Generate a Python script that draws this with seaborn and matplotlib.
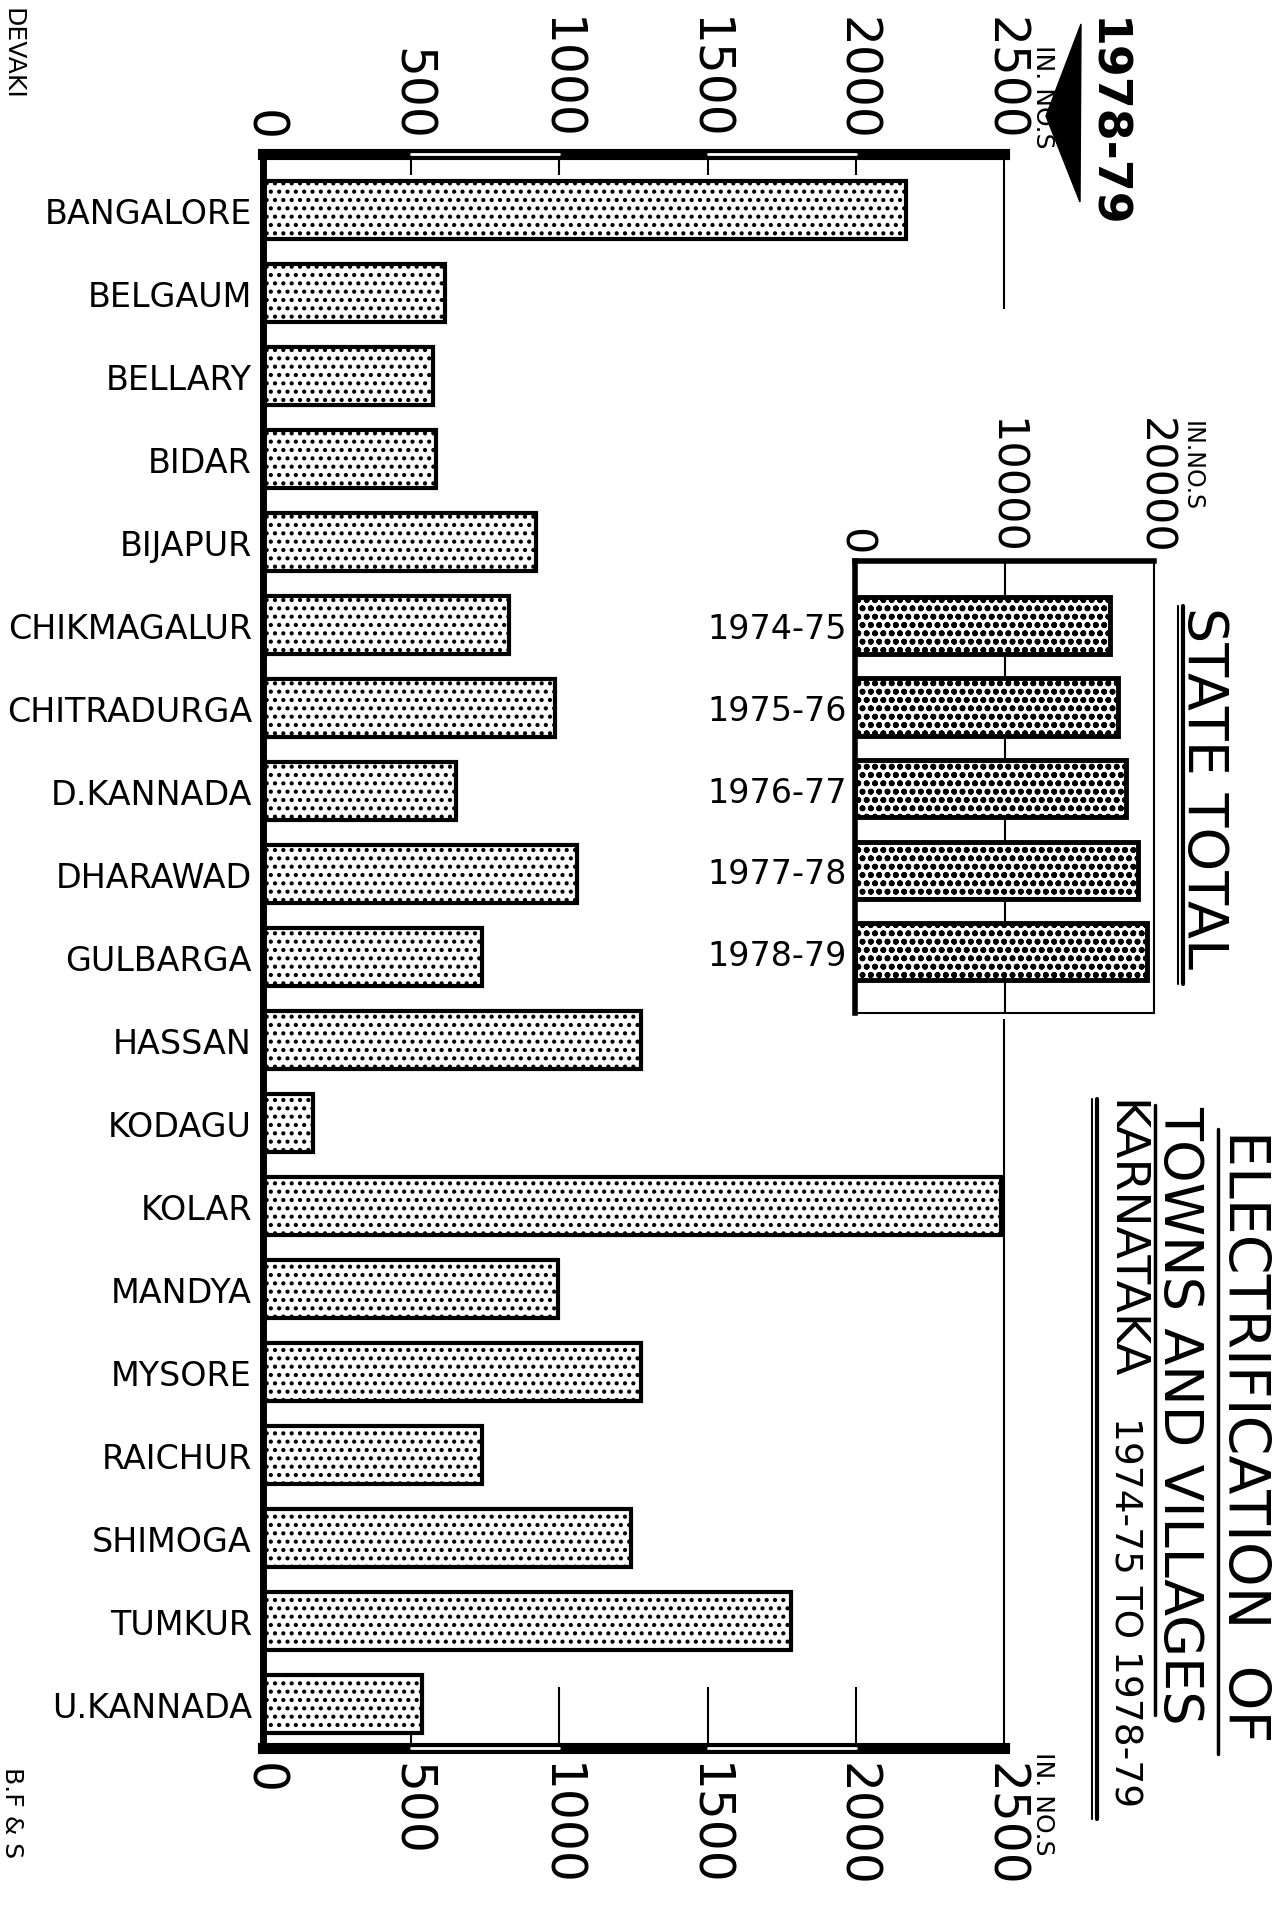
import matplotlib
matplotlib.use('Agg')
import matplotlib.pyplot as plt
from matplotlib.lines import Line2D
from matplotlib.patches import Polygon
import pandas as pd
import seaborn as sns

# District-wise electrified towns and villages, 1978-79
districts = ['BANGALORE', 'BELGAUM', 'BELLARY', 'BIDAR', 'BIJAPUR', 'CHIKMAGALUR',
             'CHITRADURGA', 'D.KANNADA', 'DHARAWAD', 'GULBARGA', 'HASSAN', 'KODAGU',
             'KOLAR', 'MANDYA', 'MYSORE', 'RAICHUR', 'SHIMOGA', 'TUMKUR', 'U.KANNADA']
villages_1978_79 = [2170, 615, 575, 585, 920, 830, 985, 650, 1060, 740,
                    1275, 170, 2490, 995, 1275, 740, 1240, 1780, 535]
district_ticks = [0, 500, 1000, 1500, 2000, 2500]

# State totals
years = ['1974-75', '1975-76', '1976-77', '1977-78', '1978-79']
state_total = [17050, 17600, 18130, 18900, 19500]
total_ticks = [0, 10000, 20000]

sns.set_style('white')
plt.rcParams['font.family'] = ['DejaVu Sans']
plt.rcParams['hatch.linewidth'] = 1.8
for key in ['text.color', 'xtick.color', 'ytick.color', 'axes.labelcolor']:
    plt.rcParams[key] = 'black'

W, H = 1284, 1915
fig = plt.figure(figsize=(W / 100, H / 100), dpi=100)


def fx(px):
    return px / W


def fy(py):
    return 1 - py / H


# Main district chart
ax = fig.add_axes([fx(263), fy(1749), fx(1004) - fx(263), fy(155) - fy(1749)])
df = pd.DataFrame({'district': districts, 'count': villages_1978_79})
sns.barplot(data=df, x='count', y='district', orient='h', color='white',
            edgecolor='black', linewidth=3, width=0.7, ax=ax, zorder=2)
for p in ax.patches:
    p.set_hatch('..')

ax.set_xlim(0, 2500)
ax.set_ylim(18.53, -0.67)
ax.set_xticks(district_ticks)
ax.set_xticklabels([str(t) for t in district_ticks])
ax.tick_params(axis='x', top=True, labeltop=True, bottom=True, labelbottom=True,
               length=0, labelsize=35, labelrotation=-90, pad=10)
ax.tick_params(axis='y', length=0, labelsize=24, pad=8)
ax.set_xlabel('')
ax.set_ylabel('')
ax.spines['left'].set_linewidth(5)
ax.spines['top'].set_linewidth(8)
ax.spines['bottom'].set_linewidth(8)
ax.spines['right'].set_visible(False)
for s in ['left', 'top', 'bottom']:
    ax.spines[s].set_color('black')

# scale-bar look of the top and bottom frame
for yv in [1, 0]:
    for seg in [(500, 1000), (1500, 2000)]:
        ax.plot(seg, [yv, yv], transform=ax.get_xaxis_transform(), color='white',
                lw=2, clip_on=False, zorder=5)
ax.vlines([500, 1000, 1500, 2000], -0.67, -0.42, color='black', lw=1.5, zorder=1)
ax.vlines([500, 1000, 1500, 2000], 17.8, 18.53, color='black', lw=1.5, zorder=1)
ax.vlines(2500, -0.67, 1.2, color='black', lw=1.5, clip_on=False)
ax.vlines(2500, 9.75, 18.53, color='black', lw=1.5, clip_on=False)

# State total inset
ax2 = fig.add_axes([fx(855), fy(1014), fx(1154) - fx(855), fy(562) - fy(1014)])
df2 = pd.DataFrame({'year': years, 'total': state_total})
sns.barplot(data=df2, x='total', y='year', orient='h', color='white',
            edgecolor='black', linewidth=3.5, width=0.7, ax=ax2, zorder=2)
for p in ax2.patches:
    p.set_hatch('oo')
ax2.set_xlim(0, 20000)
ax2.set_ylim(4.75, -0.79)
ax2.axvline(10000, color='black', lw=1.5, zorder=0)
ax2.set_xticks(total_ticks)
ax2.set_xticklabels([str(t) for t in total_ticks])
ax2.tick_params(axis='x', top=True, labeltop=True, bottom=False, labelbottom=False,
                length=0, labelsize=31, labelrotation=-90, pad=5)
ax2.tick_params(axis='y', length=0, labelsize=24, pad=6)
ax2.set_xlabel('')
ax2.set_ylabel('')
ax2.spines['left'].set_linewidth(4)
ax2.spines['top'].set_linewidth(4)
ax2.spines['right'].set_linewidth(1.5)
ax2.spines['bottom'].set_linewidth(1.5)
for s in ax2.spines.values():
    s.set_color('black')

# Texts (the sheet is printed sideways)
txt = dict(rotation=270, va='top', ha='center', color='black')
fig.text(fx(1105), fy(18), '1978-79', fontsize=33, fontweight='bold', **txt)
fig.add_artist(Polygon([[fx(1081), fy(25)], [fx(1046), fy(117)], [fx(1080), fy(203)]],
                       closed=True, color='black', transform=fig.transFigure))
fig.text(fx(1043), fy(45), 'IN. NO.S', fontsize=18, **txt)
fig.text(fx(1043), fy(1752), 'IN. NO.S', fontsize=18, **txt)
fig.text(fx(1192), fy(421), 'IN.NO.S', fontsize=17, **txt)

fig.text(fx(1203), fy(607), 'STATE TOTAL', fontsize=40, **txt)
fig.text(fx(1244), fy(1130), 'ELECTRIFICATION  OF', fontsize=41, **txt)
fig.text(fx(1179), fy(1106), 'TOWNS AND VILLAGES', fontsize=39, **txt)
fig.text(fx(1124), fy(1100), 'KARNATAKA', fontsize=34, **txt)
fig.text(fx(1124), fy(1417), '1974-75 TO 1978-79', fontsize=27, **txt)

fig.text(fx(12), fy(8), 'DEVAKI', fontsize=18, **txt)
fig.text(fx(12), fy(1767), 'B.F & S', fontsize=18, **txt)

# underlines
for x, y0, y1, lw in [(1183, 607, 985, 3), (1178, 607, 985, 1.5),
                      (1218, 1130, 1755, 2.5), (1155, 1106, 1716, 2.5),
                      (1097, 1100, 1820, 3), (1092, 1100, 1820, 1.5)]:
    fig.add_artist(Line2D([fx(x), fx(x)], [fy(y0), fy(y1)], color='black', lw=lw))

fig.savefig('out.png', dpi=100)
